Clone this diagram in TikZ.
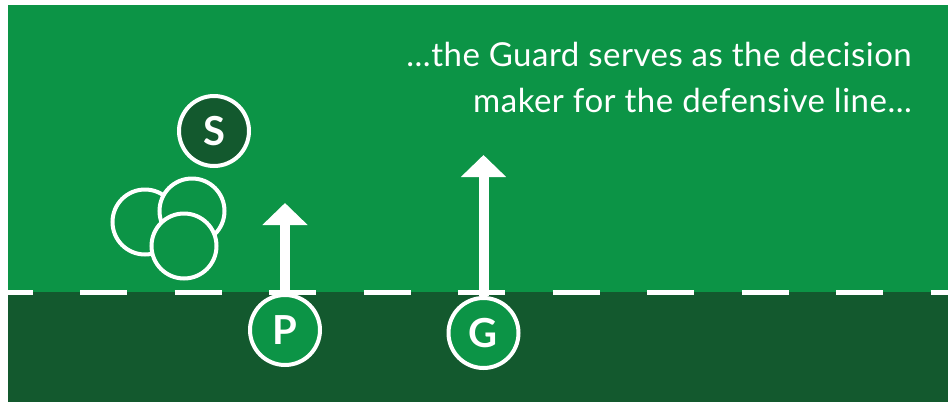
\documentclass[tikz,border=0pt]{standalone}
\usepackage{fontspec}
\setmainfont{Lato}
\usetikzlibrary{arrows.meta}
\definecolor{lightgrn}{HTML}{0C9446}
\definecolor{darkgrn}{HTML}{13592E}
\tikzset{
  player/.style={circle, draw=white, line width=4pt, minimum size=70pt, inner sep=0pt,
    text=white, font=\fontsize{40}{40}\selectfont\bfseries},
  ghost/.style={circle, draw=white, line width=4pt, minimum size=65pt, inner sep=0pt, fill=lightgrn},
  runarrow/.style={white, line width=10pt, -{Triangle[width=44pt,length=22pt]}},
  losline/.style={white, line width=5pt, dash pattern=on 47pt off 47.5pt, dash phase=22.5pt},
  caption/.style={text=white, font=\fontsize{33}{46}\selectfont\addfontfeatures{LetterSpace=1.5}, anchor=base east, inner sep=0pt}
}
\begin{document}
\begin{tikzpicture}[x=1pt,y=-1pt]
\useasboundingbox (0,0) rectangle (948,402);
\fill[white] (0,0) rectangle (948,402);
\fill[lightgrn] (8,5) rectangle (948,292);
\fill[darkgrn] (8,292) rectangle (948,402);
\coordinate (losL) at (8,292);
\coordinate (losR) at (948,292);
\draw[losline] (losL) -- (losR);
% offensive blockers
\node[ghost] (o1) at (145,222) {};
\node[ghost] (o2) at (192,211) {};
\node[ghost] (o3) at (184,246) {};
\node[player, fill=darkgrn] (S) at (214,131) {S};
% defenders
\node[player, fill=lightgrn] (P) at (285,330) {P};
\node[player, fill=lightgrn] (G) at (483.5,333) {G};
\coordinate (Ptip) at (285,203);
\coordinate (Gtip) at (483.5,155);
\draw[runarrow] (P.north) -- (Ptip);
\draw[runarrow] (G.north) -- (Gtip);
\node[caption] (txt1) at (912,66) {...the Guard serves as the decision};
\node[caption] (txt2) at (912,112) {maker for the defensive line...};
\end{tikzpicture}
\end{document}
